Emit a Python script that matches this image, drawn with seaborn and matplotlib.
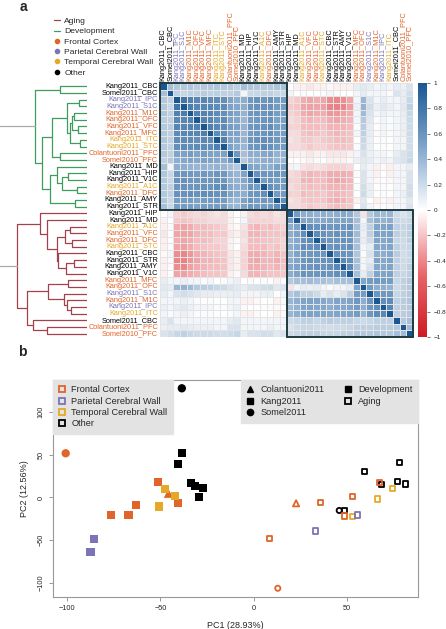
import numpy as np
import pandas as pd
import matplotlib
matplotlib.use('Agg')
import matplotlib.pyplot as plt
import seaborn as sns
from matplotlib.colors import LinearSegmentedColormap
from matplotlib.lines import Line2D
from matplotlib.patches import Rectangle

W, H = 446, 629

# ---------------- panel a data ----------------
dev_labels = ['Kang2011_CBC', 'Somel2011_CBC', 'Kang2011_IPC', 'Kang2011_S1C', 'Kang2011_M1C',
              'Kang2011_OFC', 'Kang2011_VFC', 'Kang2011_MFC', 'Kang2011_ITC', 'Kang2011_STC',
              'Colantuoni2011_PFC', 'Somel2010_PFC', 'Kang2011_MD', 'Kang2011_HIP', 'Kang2011_V1C',
              'Kang2011_A1C', 'Kang2011_DFC', 'Kang2011_AMY', 'Kang2011_STR']
aging_labels = ['Kang2011_HIP', 'Kang2011_MD', 'Kang2011_A1C', 'Kang2011_VFC', 'Kang2011_DFC',
                'Kang2011_STC', 'Kang2011_CBC', 'Kang2011_STR', 'Kang2011_AMY', 'Kang2011_V1C',
                'Kang2011_MFC', 'Kang2011_OFC', 'Kang2011_S1C', 'Kang2011_M1C', 'Kang2011_IPC',
                'Kang2011_ITC', 'Somel2011_CBC', 'Colantuoni2011_PFC', 'Somel2010_PFC']

# lower triangle, development x development
corr_dev_dev = [
    [1],
    [0.35, 1],
    [0.30, 0.25, 1],
    [0.30, 0.22, 0.80, 1],
    [0.32, 0.25, 0.72, 0.75, 1],
    [0.28, 0.25, 0.68, 0.70, 0.72, 1],
    [0.30, 0.28, 0.70, 0.70, 0.72, 0.72, 1],
    [0.30, 0.25, 0.66, 0.68, 0.70, 0.70, 0.74, 1],
    [0.32, 0.26, 0.65, 0.66, 0.66, 0.64, 0.68, 0.66, 1],
    [0.30, 0.25, 0.64, 0.66, 0.64, 0.66, 0.66, 0.65, 0.74, 1],
    [0.30, 0.25, 0.50, 0.52, 0.55, 0.50, 0.55, 0.52, 0.50, 0.52, 1],
    [0.25, 0.30, 0.45, 0.48, 0.50, 0.48, 0.52, 0.50, 0.48, 0.46, 0.58, 1],
    [0.35, 0.05, 0.45, 0.45, 0.42, 0.40, 0.42, 0.40, 0.42, 0.40, 0.35, 0.30, 1],
    [0.32, 0.22, 0.58, 0.60, 0.58, 0.55, 0.58, 0.56, 0.60, 0.58, 0.45, 0.40, 0.50, 1],
    [0.30, 0.22, 0.62, 0.62, 0.60, 0.58, 0.60, 0.58, 0.62, 0.60, 0.45, 0.42, 0.48, 0.62, 1],
    [0.30, 0.25, 0.60, 0.62, 0.60, 0.60, 0.62, 0.60, 0.65, 0.66, 0.48, 0.44, 0.45, 0.60, 0.55, 1],
    [0.30, 0.25, 0.62, 0.62, 0.64, 0.62, 0.65, 0.64, 0.62, 0.62, 0.50, 0.46, 0.45, 0.58, 0.60, 0.64, 1],
    [0.32, 0.22, 0.55, 0.56, 0.55, 0.52, 0.55, 0.55, 0.58, 0.56, 0.42, 0.40, 0.52, 0.60, 0.55, 0.58, 0.56, 1],
    [0.34, 0.22, 0.55, 0.55, 0.55, 0.52, 0.54, 0.54, 0.55, 0.55, 0.42, 0.40, 0.50, 0.58, 0.56, 0.55, 0.56, 0.64, 1],
]

# aging rows x development columns
corr_age_dev = [
    [0.00, 0.05, -0.15, -0.18, -0.15, -0.12, -0.15, -0.12, -0.10, -0.12, -0.05, 0.00, -0.05, -0.12, -0.15, -0.12, -0.15, -0.10, -0.12],
    [-0.05, 0.00, -0.18, -0.20, -0.18, -0.15, -0.15, -0.12, -0.12, -0.12, -0.05, 0.00, 0.05, -0.15, -0.15, -0.15, -0.15, -0.12, -0.12],
    [-0.05, 0.02, -0.28, -0.30, -0.28, -0.22, -0.22, -0.20, -0.18, -0.15, -0.05, -0.02, -0.10, -0.22, -0.25, -0.20, -0.22, -0.18, -0.15],
    [-0.08, 0.00, -0.30, -0.32, -0.30, -0.25, -0.22, -0.22, -0.18, -0.18, -0.08, -0.05, -0.12, -0.25, -0.25, -0.22, -0.20, -0.20, -0.18],
    [-0.05, 0.00, -0.28, -0.30, -0.28, -0.22, -0.22, -0.20, -0.15, -0.15, -0.05, -0.02, -0.10, -0.22, -0.22, -0.20, -0.20, -0.18, -0.15],
    [-0.05, 0.02, -0.30, -0.32, -0.28, -0.22, -0.20, -0.18, -0.18, -0.15, -0.05, 0.00, -0.12, -0.22, -0.22, -0.22, -0.18, -0.20, -0.15],
    [-0.02, 0.05, -0.38, -0.40, -0.35, -0.28, -0.25, -0.22, -0.20, -0.18, -0.08, -0.05, -0.15, -0.28, -0.28, -0.25, -0.22, -0.25, -0.20],
    [-0.05, 0.02, -0.40, -0.42, -0.35, -0.30, -0.25, -0.25, -0.22, -0.20, -0.08, -0.05, -0.15, -0.28, -0.30, -0.25, -0.25, -0.28, -0.22],
    [-0.05, 0.00, -0.38, -0.40, -0.32, -0.28, -0.25, -0.22, -0.22, -0.20, -0.08, -0.05, -0.15, -0.28, -0.28, -0.25, -0.22, -0.25, -0.20],
    [-0.05, 0.00, -0.30, -0.32, -0.28, -0.25, -0.22, -0.20, -0.20, -0.18, -0.05, -0.02, -0.12, -0.25, -0.25, -0.22, -0.20, -0.20, -0.18],
    [0.10, 0.05, 0.05, 0.08, 0.05, 0.05, 0.02, 0.05, 0.00, 0.02, 0.05, 0.08, 0.00, -0.02, 0.00, 0.02, 0.00, -0.05, 0.00],
    [0.12, 0.10, 0.40, 0.42, 0.38, 0.30, 0.28, 0.25, 0.22, 0.20, 0.15, 0.12, 0.10, 0.15, 0.15, 0.18, 0.20, 0.12, 0.15],
    [0.10, 0.05, 0.15, 0.18, 0.15, 0.12, 0.10, 0.10, 0.08, 0.08, 0.08, 0.10, 0.05, 0.05, 0.05, 0.08, 0.08, 0.00, 0.05],
    [0.05, 0.05, 0.05, 0.08, 0.05, 0.02, 0.00, 0.02, 0.00, 0.00, 0.05, 0.05, -0.05, -0.05, -0.02, 0.00, 0.00, -0.05, -0.02],
    [0.08, 0.05, 0.10, 0.12, 0.08, 0.05, 0.05, 0.05, 0.02, 0.02, 0.05, 0.08, -0.02, 0.00, 0.00, 0.02, 0.02, -0.02, 0.00],
    [0.05, 0.02, 0.05, 0.08, 0.05, 0.02, 0.02, 0.02, 0.00, 0.00, 0.02, 0.05, -0.05, -0.05, -0.02, 0.00, 0.00, -0.05, -0.02],
    [0.10, 0.15, 0.05, 0.05, 0.05, 0.05, 0.05, 0.05, 0.05, 0.05, 0.10, 0.12, 0.05, 0.05, 0.05, 0.05, 0.05, 0.05, 0.05],
    [0.08, 0.10, 0.10, 0.12, 0.10, 0.08, 0.08, 0.08, 0.05, 0.05, 0.15, 0.15, 0.05, 0.05, 0.05, 0.05, 0.08, 0.05, 0.05],
    [0.15, 0.18, 0.22, 0.25, 0.22, 0.20, 0.20, 0.20, 0.18, 0.18, 0.20, 0.22, 0.10, 0.15, 0.15, 0.18, 0.18, 0.12, 0.15],
]

# lower triangle, aging x aging
corr_age_age = [
    [1],
    [0.55, 1],
    [0.45, 0.50, 1],
    [0.45, 0.50, 0.65, 1],
    [0.42, 0.48, 0.62, 0.66, 1],
    [0.45, 0.48, 0.65, 0.62, 0.65, 1],
    [0.42, 0.50, 0.58, 0.58, 0.60, 0.60, 1],
    [0.45, 0.50, 0.60, 0.62, 0.60, 0.62, 0.62, 1],
    [0.48, 0.52, 0.60, 0.60, 0.62, 0.60, 0.62, 0.68, 1],
    [0.45, 0.50, 0.62, 0.60, 0.60, 0.62, 0.60, 0.64, 0.66, 1],
    [0.30, 0.35, 0.35, 0.38, 0.35, 0.35, 0.32, 0.35, 0.35, 0.35, 1],
    [-0.10, 0.05, 0.10, 0.08, 0.10, 0.05, 0.02, 0.05, 0.05, 0.10, 0.50, 1],
    [0.30, 0.35, 0.25, 0.25, 0.20, 0.10, 0.15, 0.10, 0.15, 0.25, 0.55, 0.55, 1],
    [0.40, 0.45, 0.50, 0.52, 0.50, 0.48, 0.45, 0.50, 0.48, 0.50, 0.58, 0.45, 0.60, 1],
    [0.38, 0.42, 0.50, 0.50, 0.48, 0.48, 0.45, 0.48, 0.48, 0.50, 0.55, 0.45, 0.58, 0.65, 1],
    [0.40, 0.45, 0.52, 0.52, 0.50, 0.50, 0.48, 0.50, 0.50, 0.52, 0.55, 0.42, 0.58, 0.66, 0.68, 1],
    [0.20, 0.22, 0.25, 0.25, 0.22, 0.25, 0.28, 0.25, 0.25, 0.25, 0.22, 0.20, 0.22, 0.25, 0.25, 0.25, 1],
    [0.15, 0.20, 0.22, 0.22, 0.20, 0.20, 0.18, 0.20, 0.20, 0.22, 0.25, 0.25, 0.25, 0.28, 0.28, 0.28, 0.30, 1],
    [0.20, 0.22, 0.25, 0.25, 0.25, 0.22, 0.22, 0.22, 0.25, 0.25, 0.30, 0.30, 0.30, 0.32, 0.30, 0.30, 0.35, 0.38, 1],
]

# dendrograms: (merge height, left, right), leaves are row indices
dev_tree = (0.60, (0.31, 0, 1),
            (0.52,
             (0.40,
              (0.23, (0.09, 2, 3),
               (0.20, (0.17, (0.15, 4, 5), (0.10, 6, 7)), (0.08, 8, 9))),
              (0.31, 10, 11)),
             (0.43, (0.34, 12, (0.29, (0.22, 13, 14), (0.12, 15, 16))), (0.14, 17, 18))))
age_tree = (0.80,
            (0.54, 19, (0.46, 20, (0.35, (0.25, (0.20, 21, 22), (0.17, 23, 24)),
                                   (0.33, 25, (0.24, (0.15, 26, 27), 28))))),
            (0.69,
             (0.45, (0.22, 29, 30), (0.26, 31, (0.23, 32, (0.18, 33, 34)))),
             (0.62, 35, (0.46, 36, 37))))

# ---------------- panel b data ----------------
pc_sample = ['Somel2010_PFC', 'Somel2011_CBC', 'Colantuoni2011_PFC',
             'Kang2011_CBC', 'Kang2011_MD', 'Kang2011_HIP', 'Kang2011_V1C', 'Kang2011_AMY', 'Kang2011_STR',
             'Kang2011_M1C', 'Kang2011_OFC', 'Kang2011_VFC', 'Kang2011_MFC', 'Kang2011_DFC',
             'Kang2011_A1C', 'Kang2011_ITC', 'Kang2011_STC', 'Kang2011_IPC', 'Kang2011_S1C']
pc1_dev = [-100.7, -38.5, -45.7, -38.5, -40.4, -33.5, -31.4, -27.0, -29.3,
           -51.4, -40.4, -63.2, -76.6, -67.1, -47.5, -42.1, -50.7, -85.5, -87.5]
pc2_dev = [51.7, 127.7, 4.9, 52.4, 38.8, 16.6, 13.5, 10.8, 0.9,
           17.8, -6.1, -8.8, -20.5, -20.5, 9.6, 1.8, -10.7, -48.5, -64.1]
pc1_aging = [12.9, 45.8, 22.7, 59.3, 77.9, 68.3, 77.2, 81.1, 48.8,
             35.9, 52.9, 67.2, 48.6, 8.4, 66.5, 74.5, 52.9, 55.8, 33.3]
pc2_aging = [-106.2, -15.2, -6.8, 30.2, 40.7, 15.4, 18.5, 15.8, -14.8,
             -5.6, 0.9, 17.8, -21.6, -47.7, -1.8, 10.8, -22.5, -20.5, -39.2]

region_names = ['Frontal Cortex', 'Parietal Cerebral Wall', 'Temporal Cerebral Wall', 'Other']
region_colors = ['#E0652A', '#7B74B7', '#E6A927', '#000000']
tissue_region = {'M1C': 'Frontal Cortex', 'OFC': 'Frontal Cortex', 'VFC': 'Frontal Cortex',
                 'MFC': 'Frontal Cortex', 'DFC': 'Frontal Cortex', 'PFC': 'Frontal Cortex',
                 'IPC': 'Parietal Cerebral Wall', 'S1C': 'Parietal Cerebral Wall',
                 'ITC': 'Temporal Cerebral Wall', 'STC': 'Temporal Cerebral Wall',
                 'A1C': 'Temporal Cerebral Wall'}
DEV_GREEN = '#3E9D5B'
AGING_RED = '#A4414F'
BOX = '#1F3B40'

palette = dict(zip(region_names, region_colors))


def region_of(name):
    return tissue_region.get(name.split('_')[1], 'Other')


def px_axes(fig, x0, y0, x1, y1):
    return fig.add_axes([x0 / W, 1 - y1 / H, (x1 - x0) / W, (y1 - y0) / H])


def draw_tree(ax, node, color):
    if isinstance(node, int):
        return node + 0.5, 0.0
    h, left, right = node
    yl, hl = draw_tree(ax, left, color)
    yr, hr = draw_tree(ax, right, color)
    ax.plot([hl, h, h, hr], [yl, yl, yr, yr], color=color, lw=0.9, solid_capstyle='butt')
    return (yl + yr) / 2, h


sns.set_style('white')
plt.rcParams['font.family'] = ['Liberation Sans', 'DejaVu Sans']

fig = plt.figure(figsize=(W / 100, H / 100), dpi=100)

# ---------- correlation matrix ----------
labels = dev_labels + aging_labels
n_dev = len(dev_labels)
n = len(labels)
corr = np.zeros((n, n))
for i, row in enumerate(corr_dev_dev):
    corr[i, :len(row)] = row
for k, row in enumerate(corr_age_dev):
    corr[n_dev + k, :n_dev] = row
for k, row in enumerate(corr_age_age):
    corr[n_dev + k, n_dev:n_dev + len(row)] = row
corr = np.tril(corr) + np.tril(corr, -1).T
corr_df = pd.DataFrame(corr, index=labels, columns=labels)

cmap = LinearSegmentedColormap.from_list('corr', ['#CF1A22', '#E8686D', '#FFFFFF', '#7FA5CB', '#1A5893'])

ax_hm = px_axes(fig, 160, 83, 413, 337)
cax = px_axes(fig, 418, 83, 427, 337)
sns.heatmap(corr_df, ax=ax_hm, cbar_ax=cax, cmap=cmap, vmin=-1, vmax=1,
            linewidths=0.4, linecolor='#E4E4E4', xticklabels=True, yticklabels=True)
ax_hm.add_patch(Rectangle((0, 0), n_dev, n_dev, fill=False, ec=BOX, lw=1.4, clip_on=False))
ax_hm.add_patch(Rectangle((n_dev, n_dev), n - n_dev, n - n_dev, fill=False, ec=BOX, lw=1.4, clip_on=False))

label_colors = [palette[region_of(l)] for l in labels]
ax_hm.xaxis.tick_top()
ax_hm.set_xticks(np.arange(n) + 0.5)
ax_hm.set_xticklabels(labels, rotation=90, fontsize=5.3, ha='center', va='bottom')
ax_hm.set_yticks(np.arange(n) + 0.5)
ax_hm.set_yticklabels(labels, rotation=0, fontsize=5.3)
ax_hm.tick_params(length=0, pad=1.5)
for t, c in zip(ax_hm.get_xticklabels(), label_colors):
    t.set_color(c)
for t, c in zip(ax_hm.get_yticklabels(), label_colors):
    t.set_color(c)
ax_hm.set_xlabel('')
ax_hm.set_ylabel('')

cbar = ax_hm.collections[0].colorbar
cb_ticks = [1, 0.8, 0.6, 0.4, 0.2, 0, -0.2, -0.4, -0.6, -0.8, -1]
cbar.set_ticks(cb_ticks)
cbar.set_ticklabels(['1', '0.8', '0.6', '0.4', '0.2', '0', '\u22120.2', '\u22120.4',
                     '\u22120.6', '\u22120.8', '\u22121'])
cbar.outline.set_visible(False)
cax.tick_params(labelsize=4.6, length=2.5, width=0.5, color='#444444', pad=2.5)

# ---------- dendrogram ----------
ax_dg = px_axes(fig, 0, 83, 87, 337)
for tree, color in [(dev_tree, DEV_GREEN), (age_tree, AGING_RED)]:
    y_root, h_root = draw_tree(ax_dg, tree, color)
    ax_dg.plot([h_root, 1.0], [y_root, y_root], color='#AAAAAA', lw=0.9)
ax_dg.set_xlim(1.0, 0.0)
ax_dg.set_ylim(n, 0)
ax_dg.axis('off')

# ---------- legend a ----------
leg_a_handles = [Line2D([], [], color=AGING_RED, lw=0.9),
                 Line2D([], [], color=DEV_GREEN, lw=0.9)]
leg_a_handles += [Line2D([], [], ls='none', marker='o', ms=3, mfc=c, mec=c) for c in region_colors]
fig.legend(leg_a_handles, ['Aging', 'Development'] + region_names,
           loc='upper left', bbox_to_anchor=(50 / W, 1 - 13 / H), frameon=False,
           fontsize=6.1, handlelength=0.7, handletextpad=0.5, labelspacing=0.28, borderpad=0)

fig.text(23 / W, 1 - 7 / H, 'a', fontsize=10, fontweight='bold', ha='center', va='center')
fig.text(22 / W, 1 - 352 / H, 'b', fontsize=10, fontweight='bold', ha='center', va='center')

# ---------- PCA scatter ----------
pca = pd.concat([
    pd.DataFrame({'sample': pc_sample, 'PC1': pc1_dev, 'PC2': pc2_dev, 'stage': 'Development'}),
    pd.DataFrame({'sample': pc_sample, 'PC1': pc1_aging, 'PC2': pc2_aging, 'stage': 'Aging'}),
], ignore_index=True)
pca['study'] = pca['sample'].str.split('_').str[0].replace({'Somel2010': 'Somel2011'})
pca['region'] = pca['sample'].map(region_of)

study_marker = {'Kang2011': 's', 'Somel2011': 'o', 'Colantuoni2011': '^'}

ax_sc = px_axes(fig, 53, 380, 418, 597)
for (stage, study, region), grp in pca.groupby(['stage', 'study', 'region'], sort=False):
    col = palette[region]
    m = study_marker[study]
    if stage == 'Development':
        size = 44 if m == '^' else 36
        sns.scatterplot(data=grp, x='PC1', y='PC2', ax=ax_sc, marker=m, s=size,
                        color=col, edgecolor='none', legend=False, zorder=3)
    else:
        size = 20 if m == '^' else 14
        sns.scatterplot(data=grp, x='PC1', y='PC2', ax=ax_sc, marker=m, s=size,
                        color=col, facecolor='none', edgecolor=col, linewidth=1.3,
                        legend=False, zorder=3)

ax_sc.set_xlim(-107.5, 88)
ax_sc.set_ylim(-116.4, 137.4)
ax_sc.set_xticks([-100, -50, 0, 50])
ax_sc.set_yticks([-100, -50, 0, 50, 100])
ax_sc.set_xticklabels(['\u2212100', '\u221250', '0', '50'], fontsize=5.3)
ax_sc.set_yticklabels(['\u2212100', '\u221250', '0', '50', '100'], fontsize=5.3,
                      rotation=90, va='center')
ax_sc.tick_params(length=3, width=0.6, color='#888888', pad=3, left=True, bottom=True)
for sp in ax_sc.spines.values():
    sp.set_color('#999999')
    sp.set_linewidth(0.8)
ax_sc.set_xlabel('PC1 (28.93%)', fontsize=6.5, labelpad=6)
ax_sc.set_ylabel('PC2 (12.56%)', fontsize=6.5, labelpad=6)

reg_handles = [Line2D([], [], ls='none', marker='s', ms=4, mfc='none', mec=c, mew=1.3)
               for c in region_colors]
leg1 = ax_sc.legend(reg_handles, region_names, loc='upper left', bbox_to_anchor=(0, 1),
                    borderaxespad=0, fontsize=6.6, frameon=True, fancybox=False,
                    facecolor='#E3E3E3', edgecolor='#E3E3E3', framealpha=1,
                    handlelength=0.8, handletextpad=0.6, labelspacing=0.25, borderpad=0.6)
ax_sc.add_artist(leg1)

study_handles = [Line2D([], [], ls='none', marker='^', ms=4.5, color='black'),
                 Line2D([], [], ls='none', marker='s', ms=4, color='black'),
                 Line2D([], [], ls='none', marker='o', ms=4.5, color='black'),
                 Line2D([], [], ls='none', marker='s', ms=4.5, color='black'),
                 Line2D([], [], ls='none', marker='s', ms=4, mfc='none', mec='black', mew=1.3)]
ax_sc.legend(study_handles, ['Colantuoni2011', 'Kang2011', 'Somel2011', 'Development', 'Aging'],
             ncol=2, loc='upper right', bbox_to_anchor=(1, 1), borderaxespad=0,
             fontsize=6.6, frameon=True, fancybox=False, facecolor='#E3E3E3',
             edgecolor='#E3E3E3', framealpha=1, handlelength=0.8, handletextpad=0.7,
             labelspacing=0.25, borderpad=0.6, columnspacing=2.2)

fig.savefig('out.png', dpi=100)
